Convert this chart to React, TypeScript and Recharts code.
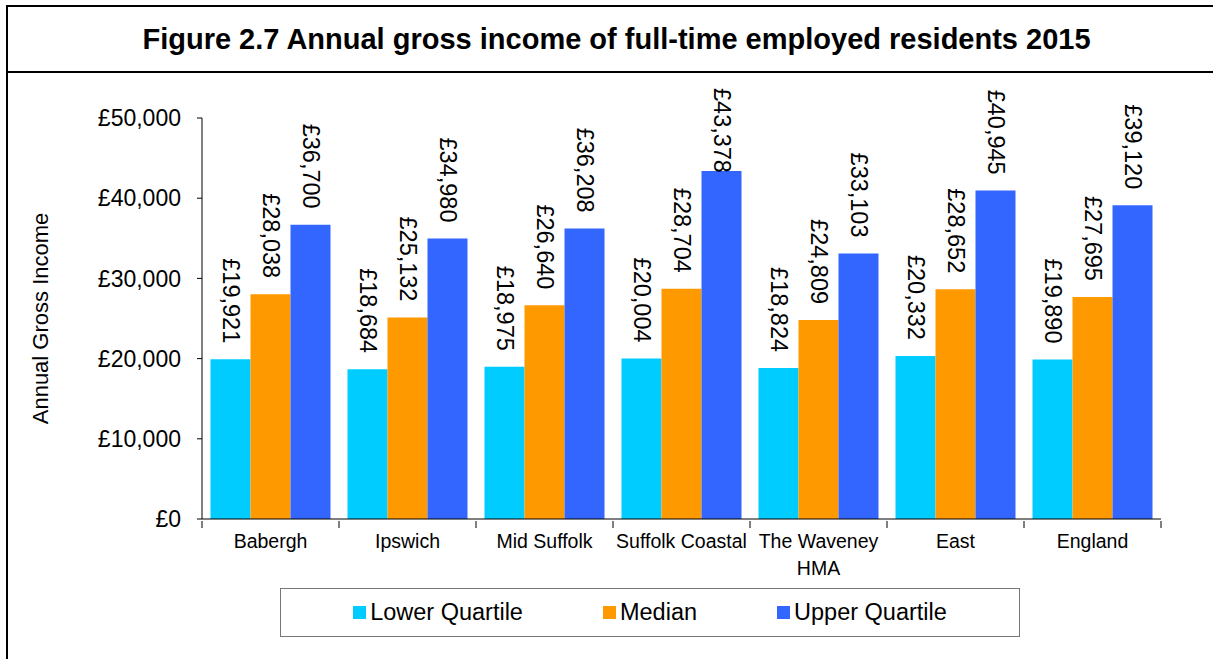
import React from 'react';
import { BarChart, Bar, XAxis, YAxis, Legend, LabelList } from 'recharts';

const areas = ['Babergh', 'Ipswich', 'Mid Suffolk', 'Suffolk Coastal', 'The Waveney HMA', 'East', 'England'];
const lowerQuartile = [19921, 18684, 18975, 20004, 18824, 20332, 19890];
const median = [28038, 25132, 26640, 28704, 24809, 28652, 27695];
const upperQuartile = [36700, 34980, 36208, 43378, 33103, 40945, 39120];
const yTicks = [0, 10000, 20000, 30000, 40000, 50000];

const series = [
  { key: 'lower', name: 'Lower Quartile', color: '#00CCFF' },
  { key: 'median', name: 'Median', color: '#FF9900' },
  { key: 'upper', name: 'Upper Quartile', color: '#3366FF' },
];

const data = areas.map((area, i) => ({
  area,
  lower: lowerQuartile[i],
  median: median[i],
  upper: upperQuartile[i],
}));

const W = 1213;
const H = 659;
const FONT = '"Liberation Sans", Arial, sans-serif';
const PLOT_LEFT = 202;
const PLOT_RIGHT = 52;
const BAND = (W - PLOT_LEFT - PLOT_RIGHT) / areas.length;
const CAT_FONT = 19.5;
const VALUE_FONT = 23.5;
const LABEL_TOP_LIMIT = 88; // labels are kept inside the chart area, like Excel does

const money = (v: number) => '£' + v.toLocaleString('en-GB');

let ctx: CanvasRenderingContext2D | null = null;
const measure = (s: string, size: number) => {
  if (!ctx) ctx = document.createElement('canvas').getContext('2d');
  if (!ctx) return s.length * size * 0.55;
  ctx.font = `${size}px ${FONT}`;
  return ctx.measureText(s).width;
};

// greedy word wrap for the category names
const wrap = (label: string, maxW: number) => {
  const lines: string[] = [];
  let cur = '';
  label.split(' ').forEach(w => {
    const next = cur ? cur + ' ' + w : w;
    if (cur && measure(next, CAT_FONT) > maxW) {
      lines.push(cur);
      cur = w;
    } else {
      cur = next;
    }
  });
  if (cur) lines.push(cur);
  return lines;
};

// rotated value label above each bar
const renderValue = (props: any) => {
  const { x, y, width, value } = props;
  const txt = money(value);
  const len = measure(txt, VALUE_FONT);
  const cx = x + width / 2;
  const cy = Math.max(y - 16, LABEL_TOP_LIMIT + len);
  return (
    <text
      x={cx}
      y={cy}
      transform={`rotate(90, ${cx}, ${cy})`}
      textAnchor="end"
      dominantBaseline="central"
      fontSize={VALUE_FONT}
      fontFamily={FONT}
      fill="#000"
    >
      {txt}
    </text>
  );
};

const AreaTick = (props: any) => {
  const { x, y, payload, index } = props;
  const left = x - BAND / 2;
  const lines = wrap(String(payload.value), BAND - 2);
  return (
    <g>
      <line x1={left} y1={y} x2={left} y2={y + 7} stroke="#000" />
      {index === areas.length - 1 && (
        <line x1={left + BAND} y1={y} x2={left + BAND} y2={y + 7} stroke="#000" />
      )}
      <text x={x} y={y + 27} textAnchor="middle" fontSize={CAT_FONT} fontFamily={FONT} fill="#000">
        {lines.map((l, i) => (
          <tspan key={i} x={x} dy={i === 0 ? 0 : 27}>
            {l}
          </tspan>
        ))}
      </text>
    </g>
  );
};

const LegendBox = () => (
  <div
    style={{
      width: 740,
      height: 49,
      boxSizing: 'border-box',
      border: '1.5px solid #777',
      display: 'flex',
      alignItems: 'center',
      justifyContent: 'center',
      gap: 80,
      fontFamily: FONT,
      fontSize: 23.5,
      color: '#000',
    }}
  >
    {series.map(s => (
      <div key={s.key} style={{ display: 'flex', alignItems: 'center' }}>
        <span style={{ width: 13, height: 13, background: s.color, marginRight: 4, display: 'inline-block' }} />
        {s.name}
      </div>
    ))}
  </div>
);

export default function App() {
  return (
    <div style={{ position: 'absolute', left: 0, top: 0, width: W, height: H, background: '#fff', overflow: 'hidden' }}>
      <div
        style={{
          position: 'absolute',
          left: 6,
          top: 5,
          width: W + 20,
          height: H + 20,
          border: '2px solid #000',
        }}
      />
      <div style={{ position: 'absolute', left: 6, top: 71, width: W, height: 2, background: '#000' }} />
      <div
        style={{
          position: 'absolute',
          left: 14,
          top: 7,
          width: W - 8,
          height: 64,
          display: 'flex',
          alignItems: 'center',
          justifyContent: 'center',
          fontFamily: FONT,
          fontWeight: 'bold',
          fontSize: 29,
          color: '#000',
        }}
      >
        Figure 2.7 Annual gross income of full-time employed residents 2015
      </div>
      <div style={{ position: 'absolute', left: 0, top: 0 }}>
        <BarChart
          width={W}
          height={H}
          data={data}
          margin={{ top: 118, right: PLOT_RIGHT, left: 0, bottom: 0 }}
          barGap={0}
          barCategoryGap={8.5}
        >
          <XAxis
            dataKey="area"
            height={H - 118 - 401}
            axisLine={{ stroke: '#000' }}
            tickLine={false}
            tickSize={0}
            tick={<AreaTick />}
            interval={0}
          />
          <YAxis
            width={PLOT_LEFT}
            domain={[0, 50000]}
            ticks={yTicks}
            tickFormatter={money}
            axisLine={{ stroke: '#000' }}
            tickLine={{ stroke: '#000' }}
            tickSize={5}
            tickMargin={16}
            tick={{ fontSize: 23, fontFamily: FONT, fill: '#000' }}
            label={{
              value: 'Annual Gross Income',
              angle: -90,
              position: 'insideLeft',
              offset: 40,
              style: { textAnchor: 'middle', fontSize: 22, fontFamily: FONT, fill: '#000' },
            }}
          />
          <Legend
            layout="horizontal"
            verticalAlign="middle"
            content={<LegendBox />}
            wrapperStyle={{ left: 280, top: 588, width: 740, height: 49 }}
          />
          {series.map(s => (
            <Bar key={s.key} dataKey={s.key} name={s.name} fill={s.color} isAnimationActive={false}>
              <LabelList dataKey={s.key} content={renderValue} />
            </Bar>
          ))}
        </BarChart>
      </div>
    </div>
  );
}
